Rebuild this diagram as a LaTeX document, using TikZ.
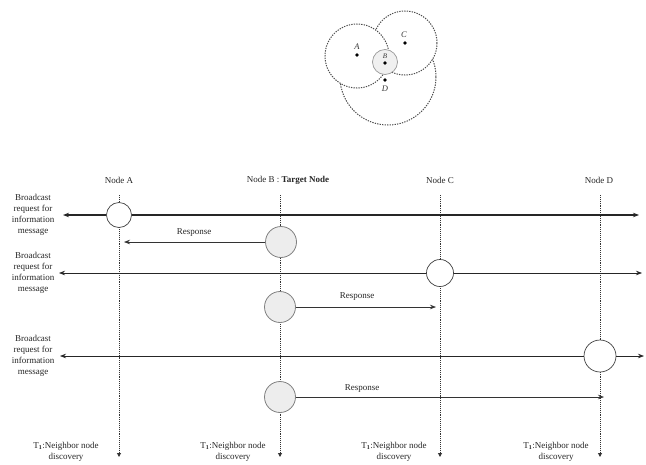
\documentclass[tikz,border=0pt]{standalone}
\usepackage{fontspec}
\setmainfont{Liberation Serif}
\usetikzlibrary{arrows.meta}
\begin{document}
\begin{tikzpicture}[x=1pt,y=-1pt,
  lbl/.style={font=\fontsize{9}{11}\selectfont, inner sep=0pt, text=black!85},
  side/.style={lbl, align=center},
  life/.style={draw=black!80, densely dotted, line width=0.9pt, -{Triangle[length=4pt,width=4pt]}},
  bc/.style={draw=black!85, line width=0.7pt, -{Stealth[length=6pt,width=4.5pt]}},
  bcthick/.style={bc, line width=1.1pt},
  resp/.style={draw=black!80, line width=0.7pt, -{Stealth[length=6pt,width=4.5pt]}},
  wcirc/.style={circle, draw=black!75, line width=0.7pt, fill=white, inner sep=0pt},
  gcirc/.style={circle, draw=black!50, line width=0.8pt, fill=black!7, inner sep=0pt, minimum size=31pt},
  rangecirc/.style={draw=black!70, line width=1pt, dash pattern=on 1.3pt off 1.2pt},
  dotnode/.style={circle, fill=black, inner sep=0pt, minimum size=3.8pt},
  tlbl/.style={font=\itshape\fontsize{8.5}{8.5}\selectfont, inner sep=0pt, text=black!80}]
\useasboundingbox (0,0) rectangle (646,464);

% ---------- top sketch ----------
\draw[rangecirc] (357,56) circle[radius=32];
\begin{scope}[even odd rule]
  \clip (0,0) rectangle (646,150) (357,56) circle[radius=32];
  \draw[rangecirc] (405,43) circle[radius=32];
  \begin{scope}[even odd rule]
    \clip (0,0) rectangle (646,150) (405,43) circle[radius=32];
    \draw[rangecirc] (388,77) circle[radius=48];
  \end{scope}
\end{scope}
\node[circle, draw=black!40, fill=black!6, line width=0.7pt, minimum size=25pt, inner sep=0pt] (rB) at (385,62) {};
\node[dotnode] (pA) at (357,55) {};
\node[dotnode] (pB) at (385,63) {};
\node[dotnode] (pC) at (405,43) {};
\node[dotnode] (pD) at (385,80) {};
\node[tlbl] (lAt) at (357,47) {A};
\node[tlbl, font=\itshape\fontsize{7}{7}\selectfont] (lBt) at (385,56) {B};
\node[tlbl] (lCt) at (404,35) {C};
\node[tlbl] (lDt) at (385,89) {D};

% ---------- headers ----------
\node[lbl] (nA) at (119,180) {Node A};
\node[lbl] (nB) at (288,180) {Node B : \textbf{Target Node}};
\node[lbl] (nC) at (440,180) {Node C};
\node[lbl] (nD) at (599,180) {Node D};

\coordinate (tA) at (119,195); \coordinate (eA) at (119,457);
\coordinate (tB) at (280,195); \coordinate (eB) at (280,457);
\coordinate (tC) at (440,195); \coordinate (eC) at (440,457);
\coordinate (tD) at (600,195); \coordinate (eD) at (600,457);

\draw[life] (tA) -- (eA);
\draw[life] (tB) -- (eB);
\draw[life] (tC) -- (eC);
\draw[life] (tD) -- (eD);

% ---------- broadcast 1 ----------
\coordinate (l1) at (63,215); \coordinate (r1) at (639,215);
\node[wcirc, minimum size=25pt] (cA) at (119,215) {};
\draw[bcthick] (cA) -- (l1);
\draw[bcthick] (cA) -- (r1);

% ---------- response 1 ----------
\node[gcirc] (b1) at (281,242) {};
\coordinate (a1) at (124,242);
\draw[resp] (b1) -- (a1);
\node[lbl] (resp1) at (194,233) {Response};

% ---------- broadcast 2 ----------
\coordinate (l2) at (59,273); \coordinate (r2) at (642,273);
\node[wcirc, minimum size=27pt] (cC) at (440,273) {};
\draw[bc] (cC) -- (l2);
\draw[bc] (cC) -- (r2);

% ---------- response 2 ----------
\node[gcirc] (b2) at (280,307) {};
\coordinate (a2) at (436,307);
\draw[resp] (b2) -- (a2);
\node[lbl] (resp2) at (357,297) {Response};

% ---------- broadcast 3 ----------
\coordinate (l3) at (60,356); \coordinate (r3) at (644,356);
\node[wcirc, minimum size=32pt] (cD) at (600,356) {};
\draw[bc] (cD) -- (l3);
\draw[bc] (cD) -- (r3);

% ---------- response 3 ----------
\node[gcirc] (b3) at (280,397) {};
\coordinate (a3) at (604,397);
\draw[resp] (b3) -- (a3);
\node[lbl] (resp3) at (362,389) {Response};

% ---------- side labels ----------
\node[side] (s1) at (33,215) {Broadcast\\request for\\information\\message};
\node[side] (s2) at (33,273) {Broadcast\\request for\\information\\message};
\node[side] (s3) at (33,356) {Broadcast\\request for\\information\\message};

% ---------- bottom labels ----------
\node[side] (d1) at (66,452) {T$_{\mathbf{1}}$:Neighbor node\\discovery};
\node[side] (d2) at (233,452) {T$_{\mathbf{1}}$:Neighbor node\\discovery};
\node[side] (d3) at (394,452) {T$_{\mathbf{1}}$:Neighbor node\\discovery};
\node[side] (d4) at (556,452) {T$_{\mathbf{1}}$:Neighbor node\\discovery};
\end{tikzpicture}
\end{document}
